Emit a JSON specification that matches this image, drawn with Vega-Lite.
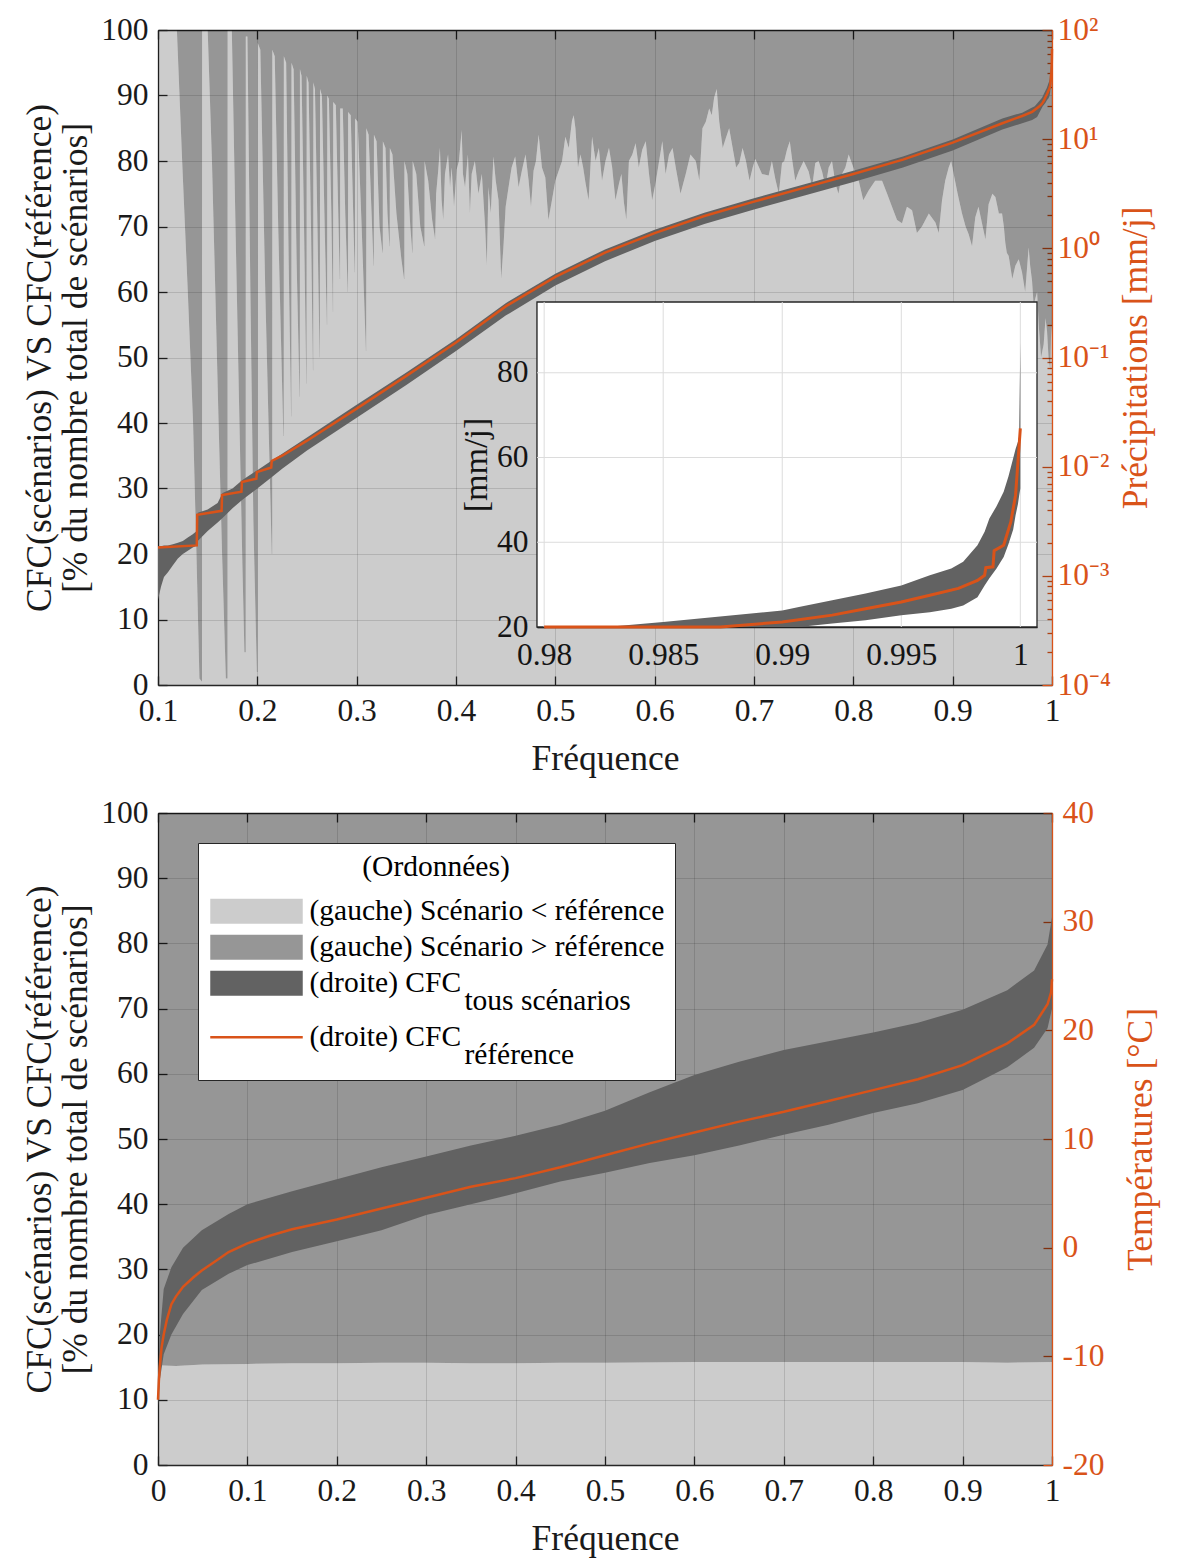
{
  "$schema": "https://vega.github.io/schema/vega-lite/v6.json",
  "background": "white",
  "padding": {"left": 22, "top": 14, "right": 5, "bottom": 5},
  "spacing": 20,
  "config": {
    "font": "Liberation Serif",
    "view": {"stroke": null},
    "style": {"guide-label": {"lineHeight": 18}},
    "axis": {
      "labelFont": "Liberation Serif", "titleFont": "Liberation Serif",
      "labelFontSize": 31.5, "titleFontSize": 35.5, "titleFontWeight": "normal",
      "labelColor": "#1a1a1a", "titleColor": "#1a1a1a",
      "domainColor": "#262626", "tickColor": "#262626", "domainWidth": 1.3, "tickWidth": 1.3,
      "gridColor": "#262626", "gridOpacity": 0.15, "gridWidth": 1,
      "tickSize": -9, "labelPadding": 19, "labelFlush": false, "labelOverlap": false, "labelBound": false
    }
  },
  "datasets": {
    "precip_bound": [
      {"f":0.1,"b":100},{"f":0.119,"b":100},{"f":0.1243,"b":80},{"f":0.13,"b":60},{"f":0.1353,"b":40},{"f":0.1387,"b":20},{"f":0.1417,"b":1},{"f":0.1443,"b":0.5},{"f":0.1444,"b":100},
      {"f":0.15,"b":100},{"f":0.1543,"b":80},{"f":0.1577,"b":60},{"f":0.161,"b":40},{"f":0.1645,"b":20},{"f":0.1683,"b":1},{"f":0.17,"b":1},{"f":0.1701,"b":100},
      {"f":0.1743,"b":100},{"f":0.178,"b":70},{"f":0.182,"b":40},{"f":0.185,"b":18},{"f":0.187,"b":5},{"f":0.1883,"b":5},{"f":0.1884,"b":99},
      {"f":0.19,"b":99},{"f":0.193,"b":60},{"f":0.196,"b":25},{"f":0.1995,"b":2},{"f":0.2003,"b":2},{"f":0.2004,"b":98},
      {"f":0.203,"b":97},{"f":0.208,"b":60},{"f":0.2145,"b":20},{"f":0.215,"b":20},{"f":0.2151,"b":97},
      {"f":0.2175,"b":96},{"f":0.221,"b":70},{"f":0.2262,"b":38},{"f":0.2266,"b":38},{"f":0.2267,"b":96},
      {"f":0.229,"b":95},{"f":0.2315,"b":65},{"f":0.234,"b":41},{"f":0.2343,"b":41},{"f":0.2344,"b":95},
      {"f":0.2365,"b":94},{"f":0.2395,"b":65},{"f":0.2425,"b":44},{"f":0.2428,"b":44},{"f":0.2429,"b":94},
      {"f":0.2445,"b":93},{"f":0.247,"b":70},{"f":0.2493,"b":46},{"f":0.2496,"b":46},{"f":0.2497,"b":93},
      {"f":0.2515,"b":92},{"f":0.254,"b":70},{"f":0.256,"b":48},{"f":0.2563,"b":48},{"f":0.2564,"b":92},
      {"f":0.258,"b":91},{"f":0.2605,"b":70},{"f":0.2627,"b":50},{"f":0.263,"b":50},{"f":0.2631,"b":91},
      {"f":0.265,"b":90},{"f":0.2675,"b":72},{"f":0.27,"b":55},{"f":0.2703,"b":55},{"f":0.2704,"b":90},
      {"f":0.272,"b":89.5},{"f":0.2745,"b":72},{"f":0.276,"b":57},{"f":0.2763,"b":57},{"f":0.2764,"b":89},
      {"f":0.279,"b":88.5},{"f":0.281,"b":75},{"f":0.283,"b":62},{"f":0.2833,"b":62},{"f":0.2834,"b":88},
      {"f":0.286,"b":88},{"f":0.2885,"b":72},{"f":0.291,"b":60},{"f":0.2913,"b":60},{"f":0.2914,"b":87.5},
      {"f":0.294,"b":87},{"f":0.296,"b":75},{"f":0.298,"b":63},{"f":0.2983,"b":63},{"f":0.2984,"b":86.5},
      {"f":0.301,"b":86},{"f":0.305,"b":70},{"f":0.3093,"b":51},{"f":0.3096,"b":51},{"f":0.3097,"b":85},
      {"f":0.312,"b":84},{"f":0.315,"b":72},{"f":0.317,"b":64},{"f":0.3173,"b":64},{"f":0.3174,"b":84},
      {"f":0.32,"b":83},{"f":0.323,"b":70},{"f":0.326,"b":66},{"f":0.3263,"b":66},{"f":0.3264,"b":83},
      {"f":0.329,"b":82},{"f":0.331,"b":72},{"f":0.333,"b":67},{"f":0.3333,"b":67},{"f":0.3334,"b":82},
      {"f":0.336,"b":81},{"f":0.34,"b":72},{"f":0.345,"b":65},{"f":0.3477,"b":62},{"f":0.348,"b":62},{"f":0.3481,"b":80},
      {"f":0.351,"b":78},{"f":0.354,"b":70},{"f":0.356,"b":66},{"f":0.3563,"b":66},{"f":0.3564,"b":80},
      {"f":0.36,"b":78},{"f":0.364,"b":70},{"f":0.368,"b":67},{"f":0.3683,"b":67},{"f":0.3684,"b":80},
      {"f":0.372,"b":77},{"f":0.376,"b":71},{"f":0.379,"b":68},
      {"f":0.38,"b":75},{"f":0.3822,"b":78.7},{"f":0.3838,"b":82},{"f":0.3855,"b":74},{"f":0.3872,"b":71},{"f":0.3889,"b":78},
      {"f":0.392,"b":81},{"f":0.394,"b":76},{"f":0.3956,"b":79},{"f":0.398,"b":73},{"f":0.4007,"b":78.7},{"f":0.403,"b":80},
      {"f":0.4057,"b":84.7},{"f":0.407,"b":78},{"f":0.4091,"b":76},{"f":0.412,"b":81},{"f":0.414,"b":72},{"f":0.4158,"b":78},
      {"f":0.419,"b":80},{"f":0.4226,"b":75},{"f":0.426,"b":78},{"f":0.4293,"b":70},{"f":0.431,"b":64},{"f":0.4327,"b":76},
      {"f":0.435,"b":72},{"f":0.4377,"b":80.7},{"f":0.44,"b":77},{"f":0.4428,"b":74},{"f":0.4455,"b":62},{"f":0.4478,"b":67},
      {"f":0.45,"b":73},{"f":0.4529,"b":76},{"f":0.456,"b":79},{"f":0.4596,"b":80.7},{"f":0.463,"b":76},{"f":0.4663,"b":78.5},
      {"f":0.47,"b":81},{"f":0.4731,"b":77},{"f":0.4755,"b":73},{"f":0.4781,"b":78.5},{"f":0.4805,"b":80},{"f":0.4832,"b":84},
      {"f":0.4865,"b":79},{"f":0.4899,"b":77.5},{"f":0.493,"b":71},{"f":0.4966,"b":74},{"f":0.5,"b":77},{"f":0.5034,"b":78.5},
      {"f":0.5068,"b":80},{"f":0.5101,"b":83.7},{"f":0.5135,"b":82},{"f":0.5168,"b":86.2},{"f":0.5185,"b":87},{"f":0.5202,"b":85},
      {"f":0.5228,"b":79},{"f":0.5253,"b":81},{"f":0.528,"b":79},{"f":0.5303,"b":76.7},{"f":0.5335,"b":74},{"f":0.537,"b":83.7},
      {"f":0.5405,"b":80},{"f":0.5438,"b":82},{"f":0.547,"b":77},{"f":0.5505,"b":80},{"f":0.554,"b":82},{"f":0.5572,"b":79},
      {"f":0.5605,"b":74},{"f":0.564,"b":76.5},{"f":0.5665,"b":78},{"f":0.569,"b":73.7},{"f":0.5715,"b":71},{"f":0.5741,"b":80},
      {"f":0.5775,"b":81},{"f":0.5808,"b":82.7},{"f":0.584,"b":79},{"f":0.5875,"b":81.7},{"f":0.591,"b":83},{"f":0.5943,"b":78},
      {"f":0.5975,"b":74},{"f":0.601,"b":76.7},{"f":0.6045,"b":80},{"f":0.6077,"b":83},{"f":0.611,"b":78},{"f":0.6145,"b":81},
      {"f":0.618,"b":82},{"f":0.6212,"b":79},{"f":0.626,"b":75},{"f":0.6313,"b":78},{"f":0.636,"b":81},{"f":0.6414,"b":80},
      {"f":0.645,"b":77},{"f":0.6481,"b":85},{"f":0.6515,"b":86},{"f":0.6549,"b":88},{"f":0.6575,"b":87},{"f":0.6599,"b":89.7},
      {"f":0.6625,"b":91},{"f":0.665,"b":86},{"f":0.6685,"b":82},{"f":0.6717,"b":83.5},{"f":0.675,"b":85},{"f":0.6785,"b":82},
      {"f":0.682,"b":79},{"f":0.6852,"b":79.7},{"f":0.6885,"b":82},{"f":0.6919,"b":80},{"f":0.6955,"b":77},{"f":0.6987,"b":79},
      {"f":0.7013,"b":80.3},{"f":0.708,"b":78},{"f":0.7148,"b":77.8},{"f":0.718,"b":80},{"f":0.7215,"b":77.2},{"f":0.725,"b":75},
      {"f":0.7282,"b":79.7},{"f":0.7305,"b":80},{"f":0.7332,"b":81.7},{"f":0.736,"b":83},{"f":0.7383,"b":80.3},{"f":0.7415,"b":77},
      {"f":0.745,"b":78.4},{"f":0.75,"b":80},{"f":0.755,"b":78.4},{"f":0.7585,"b":76},{"f":0.7617,"b":79.7},{"f":0.765,"b":80},
      {"f":0.7685,"b":78.4},{"f":0.772,"b":76},{"f":0.7752,"b":79},{"f":0.7785,"b":80},{"f":0.7819,"b":76.6},{"f":0.785,"b":75},
      {"f":0.7886,"b":78},{"f":0.792,"b":79},{"f":0.7953,"b":81},{"f":0.8,"b":79},{"f":0.8054,"b":77},{"f":0.81,"b":74},
      {"f":0.8154,"b":75.5},{"f":0.822,"b":77},{"f":0.8289,"b":77},{"f":0.834,"b":75},{"f":0.8389,"b":73},{"f":0.844,"b":71},
      {"f":0.849,"b":70.5},{"f":0.854,"b":73},{"f":0.8591,"b":72.5},{"f":0.864,"b":69},{"f":0.8691,"b":70},{"f":0.876,"b":72},
      {"f":0.8826,"b":70.6},{"f":0.886,"b":69},{"f":0.8893,"b":74},{"f":0.8925,"b":77},{"f":0.896,"b":79},{"f":0.8985,"b":80},
      {"f":0.901,"b":78},{"f":0.905,"b":75},{"f":0.9094,"b":72},{"f":0.913,"b":70},{"f":0.9161,"b":68.8},{"f":0.9195,"b":67},
      {"f":0.9228,"b":71.4},{"f":0.926,"b":73},{"f":0.9295,"b":70.5},{"f":0.933,"b":68},{"f":0.9362,"b":73.4},{"f":0.94,"b":75},
      {"f":0.943,"b":74.5},{"f":0.9465,"b":72},{"f":0.9497,"b":72},{"f":0.9515,"b":70},{"f":0.953,"b":67.5},{"f":0.9545,"b":66},
      {"f":0.9564,"b":65.5},{"f":0.96,"b":62},{"f":0.9631,"b":64},{"f":0.9665,"b":65},{"f":0.9698,"b":63},{"f":0.973,"b":60},
      {"f":0.9765,"b":66.8},{"f":0.978,"b":64},{"f":0.9799,"b":61.7},{"f":0.9815,"b":58},{"f":0.9832,"b":59},{"f":0.985,"b":60},
      {"f":0.9866,"b":55},{"f":0.989,"b":50},{"f":0.9916,"b":52},{"f":0.9935,"b":56},{"f":0.995,"b":54},{"f":0.9965,"b":50},
      {"f":0.9983,"b":48},{"f":0.999,"b":53},{"f":1,"b":55}
    ],
    "precip_band": [
      {"f":0.1,"lo":0.000603,"hi":0.001871},{"f":0.103,"lo":0.000794,"hi":0.001871},{"f":0.106,"lo":0.000977,"hi":0.001897},
      {"f":0.11,"lo":0.001076,"hi":0.001897},{"f":0.115,"lo":0.001253,"hi":0.00195},{"f":0.12,"lo":0.001439,"hi":0.002005},
      {"f":0.125,"lo":0.001585,"hi":0.002089},{"f":0.13,"lo":0.001698,"hi":0.002239},{"f":0.135,"lo":0.00182,"hi":0.002399},
      {"f":0.139,"lo":0.001897,"hi":0.00257},{"f":0.14,"lo":0.002089,"hi":0.003784},{"f":0.15,"lo":0.00257,"hi":0.004055},
      {"f":0.16,"lo":0.003076,"hi":0.004656},{"f":0.165,"lo":0.003388,"hi":0.005728},{"f":0.175,"lo":0.004169,"hi":0.00631},
      {"f":0.185,"lo":0.004989,"hi":0.007551},{"f":0.2,"lo":0.00631,"hi":0.00929},{"f":0.215,"lo":0.008091,"hi":0.01143},
      {"f":0.225,"lo":0.00955,"hi":0.01312},{"f":0.25,"lo":0.01406,"hi":0.01854},{"f":0.3,"lo":0.02805,"hi":0.03698},
      {"f":0.35,"lo":0.05598,"hi":0.07278},{"f":0.4,"lo":0.1148,"hi":0.1472},{"f":0.45,"lo":0.2421,"hi":0.3148},
      {"f":0.5,"lo":0.4571,"hi":0.5861},{"f":0.55,"lo":0.7621,"hi":0.9772},{"f":0.6,"lo":1.169,"hi":1.479},
      {"f":0.65,"lo":1.675,"hi":2.118},{"f":0.7,"lo":2.27,"hi":2.871},{"f":0.75,"lo":3.034,"hi":3.837},
      {"f":0.8,"lo":4.055,"hi":5.129},{"f":0.85,"lo":5.495,"hi":6.95},{"f":0.9,"lo":7.87,"hi":9.954},
      {"f":0.95,"lo":12.25,"hi":15.49},{"f":0.97,"lo":14.0,"hi":17.5},{"f":0.98,"lo":15.0,"hi":19.5},
      {"f":0.9826,"lo":15.5,"hi":20.0},{"f":0.985,"lo":16.0,"hi":21.2},{"f":0.99,"lo":19.5,"hi":23.9},
      {"f":0.9907,"lo":20.0,"hi":24.7},{"f":0.9921,"lo":20.8,"hi":26.3},{"f":0.9935,"lo":21.6,"hi":27.9},
      {"f":0.995,"lo":22.8,"hi":29.8},{"f":0.9962,"lo":23.5,"hi":32.2},{"f":0.9971,"lo":24.3,"hi":33.8},
      {"f":0.9976,"lo":25.1,"hi":35.4},{"f":0.9982,"lo":27.0,"hi":39.3},{"f":0.9985,"lo":29.8,"hi":42.5},
      {"f":0.9987,"lo":31.5,"hi":45.6},{"f":0.999,"lo":33.8,"hi":48.5},{"f":0.9993,"lo":36.5,"hi":51.9},
      {"f":0.9995,"lo":39.5,"hi":55.5},{"f":0.9997,"lo":43.0,"hi":59.8},{"f":0.9998,"lo":46.4,"hi":62.0},
      {"f":0.9999,"lo":49.0,"hi":63.7},{"f":0.99995,"lo":51.0,"hi":65.0},{"f":1.0,"lo":52.7,"hi":87.0}
    ],
    "precip_ref": [
      {"f":0.1,"p":0.00182},{"f":0.139,"p":0.0019},{"f":0.1395,"p":0.00363},{"f":0.164,"p":0.00394},{"f":0.1645,"p":0.0055},
      {"f":0.184,"p":0.00589},{"f":0.1845,"p":0.00724},{"f":0.199,"p":0.00776},{"f":0.1995,"p":0.00891},{"f":0.214,"p":0.00982},
      {"f":0.2145,"p":0.01127},{"f":0.225,"p":0.0126},{"f":0.25,"p":0.0173},{"f":0.3,"p":0.034},{"f":0.35,"p":0.0679},
      {"f":0.4,"p":0.137},{"f":0.45,"p":0.294},{"f":0.5,"p":0.547},{"f":0.55,"p":0.912},{"f":0.6,"p":1.38},
      {"f":0.65,"p":1.98},{"f":0.7,"p":2.68},{"f":0.75,"p":3.58},{"f":0.8,"p":4.79},{"f":0.85,"p":6.49},
      {"f":0.9,"p":9.29},{"f":0.95,"p":14.0},{"f":0.97,"p":16.3},{"f":0.98,"p":17.8},{"f":0.9874,"p":20.0},
      {"f":0.99,"p":21.2},{"f":0.9921,"p":22.8},{"f":0.9935,"p":24.3},{"f":0.995,"p":25.9},{"f":0.9962,"p":27.5},
      {"f":0.9974,"p":29.1},{"f":0.9982,"p":31.0},{"f":0.9985,"p":32.2},{"f":0.99855,"p":34.0},{"f":0.99885,"p":34.2},
      {"f":0.9989,"p":38.0},{"f":0.9993,"p":39.3},{"f":0.9996,"p":44.8},{"f":0.9998,"p":51.1},{"f":0.9999,"p":59.0},{"f":1.0,"p":66.9}
    ],
    "temp_bound": [
      {"f":0,"b":15.3},{"f":0.02,"b":15.2},{"f":0.05,"b":15.4},{"f":0.1,"b":15.5},{"f":0.15,"b":15.6},{"f":0.2,"b":15.6},
      {"f":0.25,"b":15.7},{"f":0.3,"b":15.7},{"f":0.35,"b":15.6},{"f":0.4,"b":15.6},{"f":0.45,"b":15.7},{"f":0.5,"b":15.7},
      {"f":0.6,"b":15.8},{"f":0.7,"b":15.8},{"f":0.8,"b":15.8},{"f":0.9,"b":15.8},{"f":0.95,"b":15.7},{"f":1,"b":15.8}
    ],
    "temp_band": [
      {"f":0,"lo":-14.6,"hi":-12.2},{"f":0.002,"lo":-12.2,"hi":-8.0},{"f":0.0064,"lo":-9.8,"hi":-3.8},{"f":0.015,"lo":-8.0,"hi":-1.8},
      {"f":0.028,"lo":-6.1,"hi":0.0},{"f":0.049,"lo":-3.9,"hi":1.6},{"f":0.079,"lo":-2.4,"hi":3.1},{"f":0.1,"lo":-1.6,"hi":4.0},
      {"f":0.15,"lo":-0.4,"hi":5.2},{"f":0.2,"lo":0.6,"hi":6.3},{"f":0.25,"lo":1.6,"hi":7.4},{"f":0.3,"lo":3.0,"hi":8.4},
      {"f":0.35,"lo":4.0,"hi":9.4},{"f":0.4,"lo":5.0,"hi":10.3},{"f":0.45,"lo":6.1,"hi":11.3},{"f":0.5,"lo":6.9,"hi":12.6},
      {"f":0.55,"lo":7.8,"hi":14.3},{"f":0.6,"lo":8.5,"hi":15.9},{"f":0.65,"lo":9.4,"hi":17.1},{"f":0.7,"lo":10.4,"hi":18.2},
      {"f":0.75,"lo":11.3,"hi":19.0},{"f":0.8,"lo":12.4,"hi":19.8},{"f":0.85,"lo":13.3,"hi":20.7},{"f":0.9,"lo":14.5,"hi":21.9},
      {"f":0.95,"lo":16.6,"hi":23.7},{"f":0.98,"lo":18.4,"hi":25.5},{"f":0.995,"lo":20.2,"hi":27.9},{"f":1,"lo":22.0,"hi":30.4}
    ],
    "temp_ref": [
      {"f":0,"t":-14.0},{"f":0.001,"t":-12.2},{"f":0.002,"t":-11.0},{"f":0.004,"t":-9.2},{"f":0.0064,"t":-8.0},{"f":0.01,"t":-6.6},
      {"f":0.015,"t":-5.2},{"f":0.02,"t":-4.5},{"f":0.028,"t":-3.6},{"f":0.04,"t":-2.7},{"f":0.049,"t":-2.1},{"f":0.065,"t":-1.2},
      {"f":0.079,"t":-0.4},{"f":0.1,"t":0.4},{"f":0.125,"t":1.1},{"f":0.15,"t":1.7},{"f":0.2,"t":2.6},{"f":0.25,"t":3.6},
      {"f":0.3,"t":4.6},{"f":0.35,"t":5.6},{"f":0.4,"t":6.4},{"f":0.45,"t":7.4},{"f":0.5,"t":8.5},{"f":0.55,"t":9.6},
      {"f":0.6,"t":10.6},{"f":0.65,"t":11.6},{"f":0.7,"t":12.5},{"f":0.75,"t":13.5},{"f":0.8,"t":14.5},{"f":0.85,"t":15.5},
      {"f":0.9,"t":16.8},{"f":0.95,"t":18.8},{"f":0.98,"t":20.5},{"f":0.995,"t":22.4},{"f":0.999,"t":23.5},{"f":1,"t":24.7}
    ]
  },
  "vconcat": [
    {
      "width": 894,
      "height": 655,
      "layer": [
        {
          "data": {"name": "precip_bound"},
          "layer": [
            {
              "mark": {"type": "area", "color": "rgba(0,0,0,0.2)", "opacity": 1},
              "encoding": {
                "x": {"field": "f", "type": "quantitative",
                      "scale": {"domain": [0.1, 1], "nice": false, "zero": false},
                      "axis": {"orient": "bottom", "values": [0.1,0.2,0.3,0.4,0.5,0.6,0.7,0.8,0.9,1], "format": "~g", "grid": true, "title": "Fréquence", "titlePadding": 15}},
                "y": {"field": "b", "type": "quantitative",
                      "scale": {"domain": [0, 100], "nice": false},
                      "axis": {"orient": "left", "values": [0,10,20,30,40,50,60,70,80,90,100], "grid": true,
                               "title": ["CFC(scénarios) VS CFC(référence)", "[% du nombre total de scénarios]"], "titleLineHeight": 36, "titlePadding": 7}}
              }
            },
            {
              "mark": {"type": "area", "color": "rgba(0,0,0,0.41)", "opacity": 1},
              "encoding": {
                "x": {"field": "f", "type": "quantitative"},
                "y": {"field": "b", "type": "quantitative"},
                "y2": {"datum": 100}
              }
            }
          ]
        },
        {
          "layer": [
            {
              "data": {"name": "precip_band"},
              "mark": {"type": "area", "color": "#626262", "opacity": 1},
              "encoding": {
                "x": {"field": "f", "type": "quantitative",
                      "scale": {"domain": [0.1, 1], "nice": false, "zero": false},
                      "axis": {"orient": "top", "values": [0.1,0.2,0.3,0.4,0.5,0.6,0.7,0.8,0.9,1], "labels": false, "grid": false, "title": null}},
                "y": {"field": "lo", "type": "quantitative",
                      "scale": {"type": "log", "domain": [0.0001, 100], "nice": false},
                      "axis": {"orient": "right", "grid": false, "labelPadding": 15,
                               "values": [0.0001,0.0002,0.0003,0.0004,0.0005,0.0006,0.0007,0.0008,0.0009,0.001,0.002,0.003,0.004,0.005,0.006,0.007,0.008,0.009,0.01,0.02,0.03,0.04,0.05,0.06,0.07,0.08,0.09,0.1,0.2,0.3,0.4,0.5,0.6,0.7,0.8,0.9,1,2,3,4,5,6,7,8,9,10,20,30,40,50,60,70,80,90,100],
                               "labelExpr": "abs(log(datum.value)/LN10 - round(log(datum.value)/LN10)) < 0.001 ? '10' + ['⁻⁴','⁻³','⁻²','⁻¹','⁰','¹','²'][round(log(datum.value)/LN10) + 4] : ''",
                               "tickSize": {"condition": {"test": "abs(log(datum.value)/LN10 - round(log(datum.value)/LN10)) < 0.001", "value": -10}, "value": -5},
                               "labelColor": "#D95319", "tickColor": "#D95319", "domainColor": "#D95319", "titleColor": "#D95319",
                               "title": "Précipitations [mm/j]", "titleAngle": -90, "titleBaseline": "top", "titlePadding": 8}},
                "y2": {"field": "hi"}
              }
            },
            {
              "data": {"name": "precip_ref"},
              "mark": {"type": "line", "color": "#D95319", "strokeWidth": 2.5},
              "encoding": {
                "x": {"field": "f", "type": "quantitative"},
                "y": {"field": "p", "type": "quantitative"}
              }
            }
          ]
        },
        {
          "layer": [
            {
              "data": {"values": [{}]},
              "mark": {"type": "rect", "fill": "white", "stroke": "#262626", "strokeWidth": 1.3},
              "encoding": {
                "x": {"datum": 0.9797, "type": "quantitative",
                      "scale": {"domain": [0.9797, 1.0007], "range": [379, 879], "nice": false, "zero": false, "clamp": true},
                      "axis": {"orient": "bottom", "offset": -58, "values": [0.98,0.985,0.99,0.995,1], "format": "~g", "grid": false, "title": null, "tickSize": -8, "labelPadding": 20}},
                "x2": {"datum": 1.0007},
                "y": {"datum": 20, "type": "quantitative",
                      "scale": {"domain": [20, 96.7], "range": [597, 272], "nice": false, "zero": false, "clamp": true},
                      "axis": {"orient": "left", "offset": -379, "values": [20,40,60,80], "grid": false, "title": "[mm/j]", "titleFontSize": 34, "titlePadding": 3, "tickSize": -8, "labelPadding": 17}},
                "y2": {"datum": 96.7}
              }
            },
            {
              "data": {"values": [{"g": 0.98}, {"g": 0.985}, {"g": 0.99}, {"g": 0.995}, {"g": 1}]},
              "mark": {"type": "rule", "color": "#dcdcdc", "strokeWidth": 1},
              "encoding": {
                "x": {"field": "g", "type": "quantitative"},
                "y": {"datum": 20},
                "y2": {"datum": 96.7}
              }
            },
            {
              "data": {"values": [{"g": 40}, {"g": 60}, {"g": 80}]},
              "mark": {"type": "rule", "color": "#dcdcdc", "strokeWidth": 1},
              "encoding": {
                "y": {"field": "g", "type": "quantitative"},
                "x": {"datum": 0.9797},
                "x2": {"datum": 1.0007}
              }
            },
            {
              "data": {"name": "precip_band"},
              "transform": [{"filter": "datum.f >= 0.979"}],
              "mark": {"type": "area", "color": "#626262", "opacity": 1},
              "encoding": {
                "x": {"field": "f", "type": "quantitative"},
                "y": {"field": "lo", "type": "quantitative"},
                "y2": {"field": "hi"}
              }
            },
            {
              "data": {"name": "precip_ref"},
              "transform": [{"filter": "datum.f >= 0.979"}],
              "mark": {"type": "line", "color": "#D95319", "strokeWidth": 3},
              "encoding": {
                "x": {"field": "f", "type": "quantitative"},
                "y": {"field": "p", "type": "quantitative"}
              }
            }
          ]
        }
      ],
      "resolve": {"scale": {"x": "independent", "y": "independent"}}
    },
    {
      "width": 894,
      "height": 652,
      "layer": [
        {
          "data": {"name": "temp_bound"},
          "layer": [
            {
              "mark": {"type": "area", "opacity": 1},
              "encoding": {
                "x": {"field": "f", "type": "quantitative",
                      "scale": {"domain": [0, 1], "nice": false, "zero": false},
                      "axis": {"orient": "bottom", "values": [0,0.1,0.2,0.3,0.4,0.5,0.6,0.7,0.8,0.9,1], "format": "~g", "grid": true, "title": "Fréquence", "titlePadding": 15}},
                "y": {"field": "b", "type": "quantitative",
                      "scale": {"domain": [0, 100], "nice": false},
                      "axis": {"orient": "left", "values": [0,10,20,30,40,50,60,70,80,90,100], "grid": true,
                               "title": ["CFC(scénarios) VS CFC(référence)", "[% du nombre total de scénarios]"], "titleLineHeight": 36, "titlePadding": 7}},
                "color": {
                  "datum": "(gauche) Scénario < référence", "type": "nominal",
                  "scale": {
                    "domain": ["(gauche) Scénario < référence", "(gauche) Scénario > référence", "(droite) CFC tous scénarios", "(droite) CFC référence"],
                    "range": ["rgba(0,0,0,0.2)", "rgba(0,0,0,0.41)", "#626262", "#D95319"]
                  },
                  "legend": {
                    "orient": "none", "legendX": 40, "legendY": 30,
                    "title": "(Ordonnées)", "titleFont": "Liberation Serif", "titleFontSize": 29.5, "titleFontWeight": "normal", "titleColor": "#000000",
                    "titleAnchor": "middle", "titleAlign": "center", "titlePadding": 14,
                    "labelFont": "Liberation Serif", "labelFontSize": 29.5, "labelColor": "#000000", "labelLimit": 0,
                    "labelExpr": "datum.value === '(droite) CFC tous scénarios' ? ['(droite) CFC', '\u200b\u00a0\u00a0\u00a0\u00a0\u00a0\u00a0\u00a0\u00a0\u00a0\u00a0\u00a0\u00a0\u00a0\u00a0\u00a0\u00a0\u00a0\u00a0\u00a0\u00a0\u00a0tous scénarios'] : datum.value === '(droite) CFC référence' ? ['(droite) CFC', '\u200b\u00a0\u00a0\u00a0\u00a0\u00a0\u00a0\u00a0\u00a0\u00a0\u00a0\u00a0\u00a0\u00a0\u00a0\u00a0\u00a0\u00a0\u00a0\u00a0\u00a0\u00a0référence'] : datum.label",
                    "symbolSize": 625,
                    "symbolType": {"expr": "datum.value === '(droite) CFC référence' ? 'M-1,-0.1H6.4V0.1H-1Z' : 'M-1,-1H6.4V1H-1Z'"},
                    "symbolOpacity": 1, "symbolStrokeWidth": 0,
                    "labelOffset": 72, "rowPadding": 5,
                    "padding": 10, "strokeColor": "#262626", "fillColor": "white"
                  }
                }
              }
            },
            {
              "mark": {"type": "area", "opacity": 1},
              "encoding": {
                "x": {"field": "f", "type": "quantitative"},
                "y": {"field": "b", "type": "quantitative"},
                "y2": {"datum": 100},
                "color": {"datum": "(gauche) Scénario > référence", "type": "nominal"}
              }
            }
          ]
        },
        {
          "layer": [
            {
              "data": {"name": "temp_band"},
              "mark": {"type": "area", "opacity": 1},
              "encoding": {
                "x": {"field": "f", "type": "quantitative",
                      "scale": {"domain": [0, 1], "nice": false, "zero": false},
                      "axis": {"orient": "top", "values": [0,0.1,0.2,0.3,0.4,0.5,0.6,0.7,0.8,0.9,1], "labels": false, "grid": false, "title": null}},
                "y": {"field": "lo", "type": "quantitative",
                      "scale": {"domain": [-20, 40], "nice": false, "zero": false},
                      "axis": {"orient": "right", "grid": false, "values": [-20,-10,0,10,20,30,40],
                               "labelExpr": "datum.value < 0 ? '-' + abs(datum.value) : '' + datum.value",
                               "labelColor": "#D95319", "tickColor": "#D95319", "domainColor": "#D95319", "titleColor": "#D95319",
                               "title": "Températures [°C]", "titleAngle": -90, "titleBaseline": "top", "titlePadding": 20}},
                "y2": {"field": "hi"},
                "color": {"datum": "(droite) CFC tous scénarios", "type": "nominal"}
              }
            },
            {
              "data": {"name": "temp_ref"},
              "mark": {"type": "line", "strokeWidth": 2.5},
              "encoding": {
                "x": {"field": "f", "type": "quantitative"},
                "y": {"field": "t", "type": "quantitative"},
                "color": {"datum": "(droite) CFC référence", "type": "nominal"}
              }
            }
          ]
        }
      ],
      "resolve": {"scale": {"x": "independent", "y": "independent"}}
    }
  ],
  "resolve": {"scale": {"color": "independent"}, "legend": {"color": "independent"}}
}
